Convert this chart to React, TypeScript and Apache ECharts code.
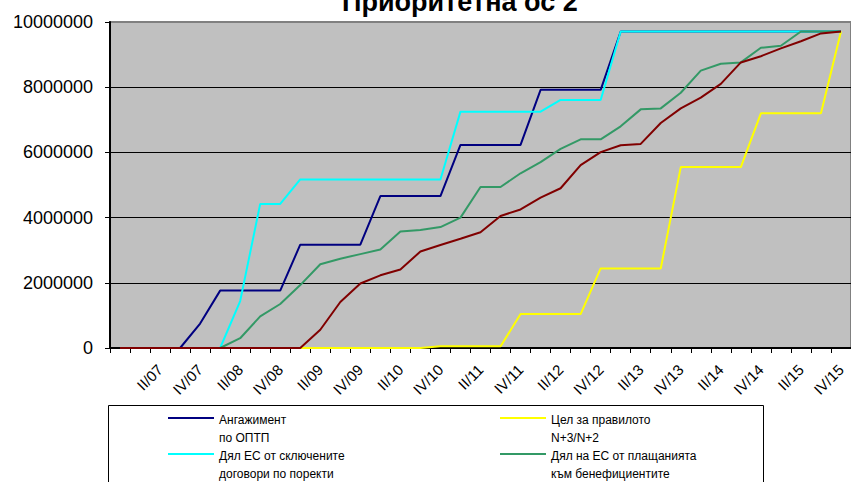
import React, { useEffect, useRef } from 'react';
import * as echarts from 'echarts';

const FONT = "'Liberation Sans', Arial, sans-serif";

const categories = [
  'IV/06',
  'I/07', 'II/07', 'III/07', 'IV/07',
  'I/08', 'II/08', 'III/08', 'IV/08',
  'I/09', 'II/09', 'III/09', 'IV/09',
  'I/10', 'II/10', 'III/10', 'IV/10',
  'I/11', 'II/11', 'III/11', 'IV/11',
  'I/12', 'II/12', 'III/12', 'IV/12',
  'I/13', 'II/13', 'III/13', 'IV/13',
  'I/14', 'II/14', 'III/14', 'IV/14',
  'I/15', 'II/15', 'III/15', 'IV/15',
];

const yTicks = [0, 2000000, 4000000, 6000000, 8000000, 10000000];

const seriesNames = [
  'Ангажимент по ОПТП',
  'Цел за правилото N+3/N+2',
  'Дял ЕС от сключените договори по поректи',
  'Дял на ЕС от плащанията към бенефициентите',
  'Верифицирани разходи',
];

const legendLabels = [
  'Ангажимент\nпо ОПТП',
  'Цел за правилото\nN+3/N+2',
  'Дял ЕС от сключените\nдоговори по поректи',
  'Дял на ЕС от плащанията\nкъм бенефициентите',
  'Верифицирани\nразходи',
];

const commitment = [
  0, 0, 0, 0, 750000,
  1760000, 1760000, 1760000, 1760000,
  3170000, 3170000, 3170000, 3170000,
  4660000, 4660000, 4660000, 4660000,
  6230000, 6230000, 6230000, 6230000,
  7920000, 7920000, 7920000, 7920000,
  9710000, 9710000, 9710000, 9710000, 9710000, 9710000,
  9710000, 9710000, 9710000, 9710000, 9710000, 9710000,
];

const target = [
  0, 0, 0, 0, 0, 0, 0, 0, 0, 0, 0, 0, 0, 0, 0, 0,
  50000, 50000, 50000, 50000,
  1040000, 1040000, 1040000, 1040000,
  2440000, 2440000, 2440000, 2440000,
  5550000, 5550000, 5550000, 5550000,
  7200000, 7200000, 7200000, 7200000,
  9710000,
];

const contracted = [
  0, 0, 0, 0, 0, 0,
  1440000,
  4420000, 4420000,
  5170000, 5170000, 5170000, 5170000, 5170000, 5170000, 5170000, 5170000,
  7250000, 7250000, 7250000, 7250000, 7250000,
  7610000, 7610000, 7610000,
  9710000, 9710000, 9710000, 9710000, 9710000, 9710000,
  9710000, 9710000, 9710000, 9710000, 9710000, 9710000,
];

const payments = [
  0, 0, 0, 0, 0, 0,
  300000, 970000, 1350000, 1930000, 2570000, 2740000, 2880000, 3020000,
  3570000, 3620000, 3710000, 4000000, 4940000, 4940000, 5360000, 5700000,
  6110000, 6400000, 6400000, 6800000, 7320000, 7350000, 7830000, 8510000,
  8720000, 8760000, 9210000, 9270000, 9710000, 9710000, 9710000,
];

const verified = [
  0, 0, 0, 0, 0, 0, 0, 0, 0, 0,
  560000, 1410000, 1980000, 2230000, 2410000, 2960000, 3160000, 3350000,
  3550000, 4050000, 4250000, 4610000, 4900000, 5610000, 6010000, 6220000,
  6260000, 6900000, 7350000, 7680000, 8100000, 8760000, 8950000, 9190000,
  9410000, 9650000, 9710000,
];

const seriesData = [commitment, target, contracted, payments, verified];
const seriesColors = ['#000080', '#ffff00', '#00ffff', '#339966', '#800000'];

export default function App() {
  const ref = useRef<HTMLDivElement>(null);

  useEffect(() => {
    const chart = echarts.init(ref.current!, null, { renderer: 'svg' });
    chart.setOption({
      animation: false,
      backgroundColor: '#ffffff',
      title: {
        text: 'Приоритетна ос 2',
        left: 342,
        top: -12,
        padding: 0,
        textStyle: { fontSize: 27, fontWeight: 'bold', color: '#000', fontFamily: FONT },
      },
      grid: {
        left: 110,
        right: -7,
        top: 22,
        bottom: 134,
        show: true,
        backgroundColor: '#c0c0c0',
        borderColor: '#808080',
        borderWidth: 2,
        containLabel: false,
      },
      graphic: [
        {
          type: 'rect',
          z: -10,
          shape: { x: 108.5, y: 405.5, width: 655, height: 120 },
          style: { fill: '#ffffff', stroke: '#000000', lineWidth: 1 },
        },
      ],
      legend: {
        data: seriesNames,
        left: 168,
        top: 411,
        orient: 'horizontal',
        width: 700,
        padding: 0,
        itemGap: 0,
        itemWidth: 46,
        itemHeight: 24,
        icon: 'path://M0,0 L46,0 L46,2 L0,2 Z M0,24 L0,24',
        formatter: (name: string) => legendLabels[seriesNames.indexOf(name)],
        textStyle: {
          fontSize: 12,
          lineHeight: 18,
          width: 281,
          color: '#000',
          fontFamily: FONT,
        },
      },
      xAxis: {
        type: 'category',
        data: categories,
        boundaryGap: true,
        axisLine: { show: true, lineStyle: { color: '#000', width: 2 } },
        axisTick: { show: true, interval: 0, length: 5, lineStyle: { color: '#000', width: 1 } },
        axisLabel: {
          interval: (i: number) => i > 0 && i % 2 === 0,
          rotate: 45,
          margin: 19,
          fontSize: 15,
          color: '#000',
          fontFamily: FONT,
        },
        splitLine: { show: false },
      },
      yAxis: {
        type: 'value',
        min: yTicks[0],
        max: yTicks[yTicks.length - 1],
        interval: yTicks[1] - yTicks[0],
        axisLine: { show: true, lineStyle: { color: '#000', width: 2 } },
        axisTick: { show: true, length: 5, lineStyle: { color: '#000', width: 1 } },
        axisLabel: {
          margin: 17,
          fontSize: 18,
          color: '#000',
          fontFamily: FONT,
          formatter: (v: number) => String(v),
        },
        splitLine: {
          show: true,
          lineStyle: {
            color: ['#000000', '#000000', '#000000', '#000000', '#000000', '#808080'],
            width: 1,
          },
        },
      },
      series: seriesNames.map((name, k) => ({
        name,
        type: 'line',
        data: seriesData[k],
        showSymbol: false,
        symbol: 'none',
        color: seriesColors[k],
        lineStyle: { color: seriesColors[k], width: 2 },
        itemStyle: { color: seriesColors[k] },
      })),
    });
    return () => chart.dispose();
  }, []);

  return (
    <div
      ref={ref}
      style={{ position: 'absolute', left: 0, top: 0, width: 851, height: 482, background: '#fff' }}
    />
  );
}
